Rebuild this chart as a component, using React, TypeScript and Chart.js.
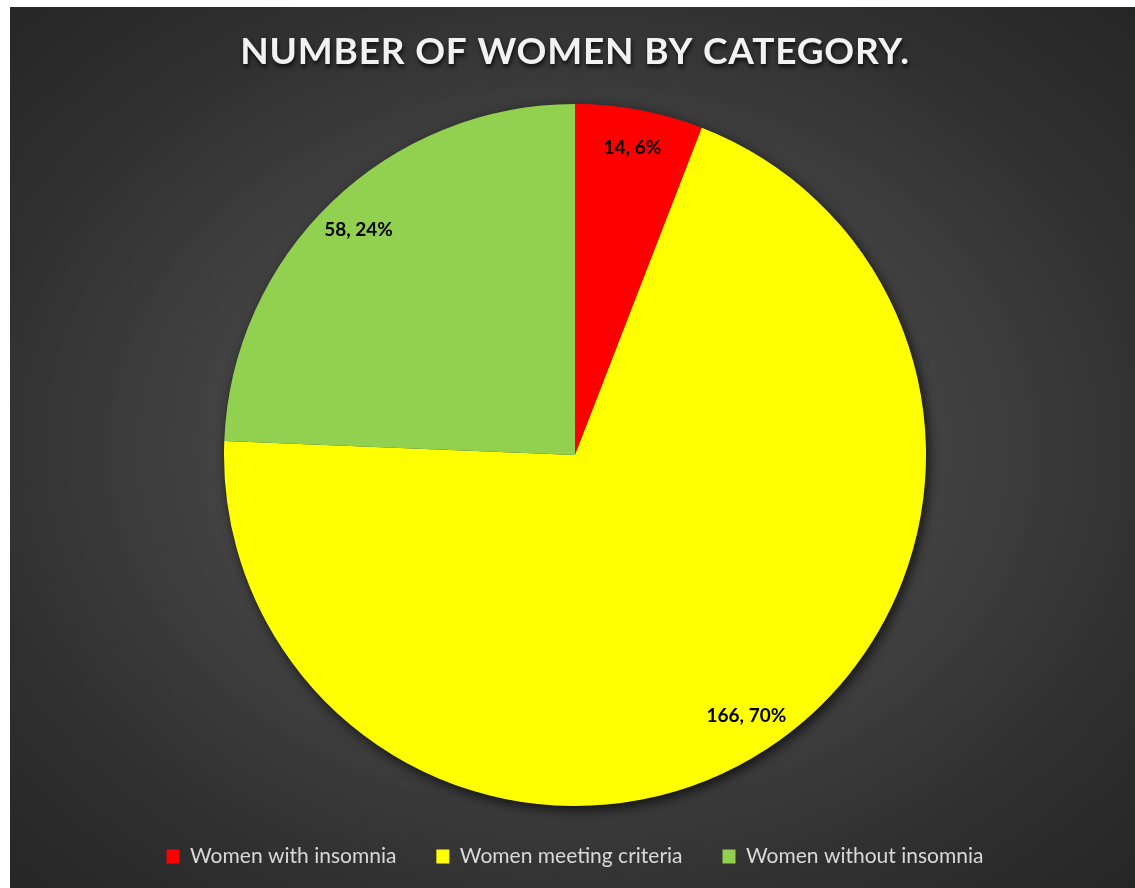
import React, { useEffect, useRef } from "react";
import { Chart, registerables } from "chart.js";

Chart.register(...registerables);

const categories = ["Women with insomnia", "Women meeting criteria", "Women without insomnia"];
const counts = [14, 166, 58];
const sliceColors = ["#ff0000", "#ffff00", "#92d050"];
const titleText = "NUMBER OF WOMEN BY CATEGORY.";

const W = 1125;
const H = 881;

const titlePlugin = {
  id: "customTitle",
  afterDraw(chart: any) {
    const ctx = chart.ctx;
    ctx.save();
    ctx.font = "bold 37px Lato";
    (ctx as any).letterSpacing = "0.8px";
    ctx.fillStyle = "#f2f2f2";
    ctx.textAlign = "center";
    ctx.textBaseline = "middle";
    ctx.shadowColor = "rgba(0,0,0,0.75)";
    ctx.shadowBlur = 4;
    ctx.shadowOffsetX = 1;
    ctx.shadowOffsetY = 3;
    ctx.fillText(titleText, 565, 45);
    ctx.restore();
  },
};

const shadowPlugin = {
  id: "pieShadow",
  beforeDatasetsDraw(chart: any) {
    const meta = chart.getDatasetMeta(0);
    const arc = meta.data[0];
    if (!arc) return;
    const { x, y, outerRadius } = arc.getProps(["x", "y", "outerRadius"], true);
    const ctx = chart.ctx;
    ctx.save();
    ctx.shadowColor = "rgba(0,0,0,0.7)";
    ctx.shadowBlur = 12;
    ctx.shadowOffsetX = 3;
    ctx.shadowOffsetY = 4;
    ctx.fillStyle = "#3a3a3a";
    ctx.beginPath();
    ctx.arc(x, y, outerRadius, 0, Math.PI * 2);
    ctx.fill();
    ctx.restore();
  },
};

const labelPlugin = {
  id: "sliceLabels",
  afterDatasetsDraw(chart: any) {
    const meta = chart.getDatasetMeta(0);
    const data = chart.data.datasets[0].data as number[];
    const total = data.reduce((a, b) => a + b, 0);
    const ctx = chart.ctx;
    ctx.save();
    ctx.font = "bold 19px Lato";
    ctx.fillStyle = "#000000";
    ctx.textAlign = "center";
    ctx.textBaseline = "middle";
    meta.data.forEach((el: any, i: number) => {
      const { x, y, startAngle, endAngle, outerRadius } = el.getProps(
        ["x", "y", "startAngle", "endAngle", "outerRadius"],
        true
      );
      const mid = (startAngle + endAngle) / 2;
      const r = outerRadius * 0.89;
      const v = data[i];
      const txt = `${v}, ${Math.round((v / total) * 100)}%`;
      ctx.fillText(txt, x + Math.cos(mid) * r, y + Math.sin(mid) * r);
    });
    ctx.restore();
  },
};

export default function App() {
  const ref = useRef<HTMLCanvasElement | null>(null);
  useEffect(() => {
    if (!ref.current) return;
    const chart = new Chart(ref.current, {
      type: "pie",
      data: {
        labels: categories,
        datasets: [
          {
            data: counts,
            backgroundColor: sliceColors,
            borderWidth: 0,
            hoverOffset: 0,
            offset: 0,
          },
        ],
      },
      options: {
        responsive: false,
        animation: false,
        layout: { padding: { top: 97, left: 5, right: 0, bottom: 11 } },
        plugins: {
          title: { display: false },
          tooltip: { enabled: false },
          legend: {
            display: true,
            position: "bottom",
            labels: {
              boxWidth: 13,
              boxHeight: 14,
              padding: 40,
              color: "#d9d9d9",
              font: { family: "Lato", size: 21 },
            },
          },
        },
      },
      plugins: [shadowPlugin, labelPlugin, titlePlugin],
    });
    return () => chart.destroy();
  }, []);

  return (
    <div
      style={{
        position: "absolute",
        left: 10,
        top: 7,
        width: W,
        height: H,
        background:
          "radial-gradient(ellipse at 50% 50%, #5c5c5c 0%, #484848 35%, #303030 75%, #262626 100%)",
      }}
    >
      <canvas ref={ref} width={W} height={H} style={{ display: "block" }} />
    </div>
  );
}
